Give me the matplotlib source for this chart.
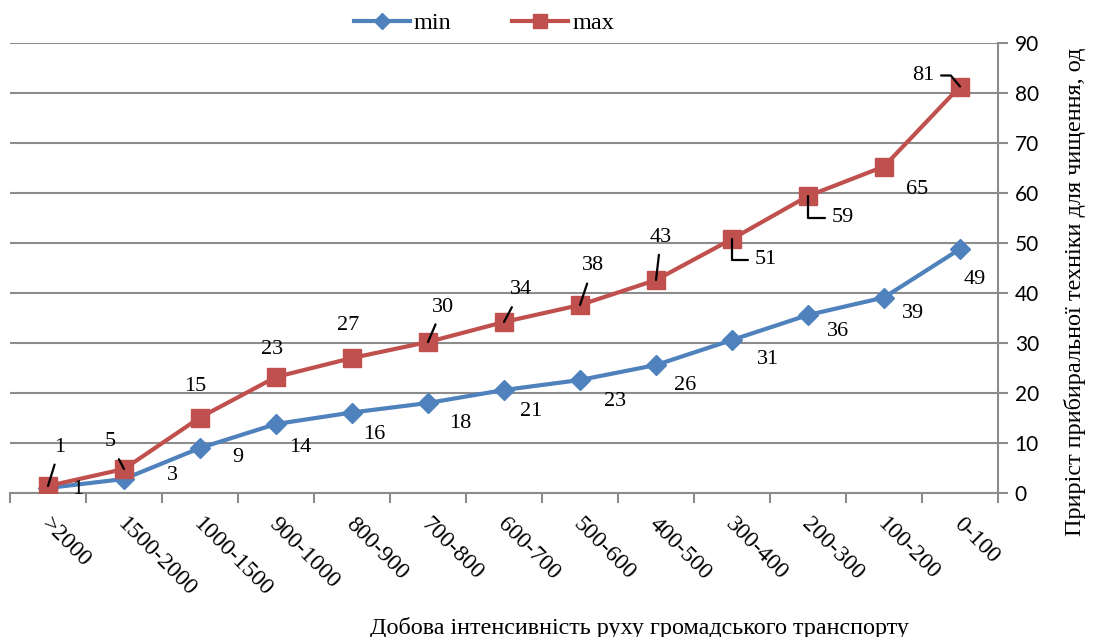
import matplotlib.pyplot as plt
from matplotlib.transforms import ScaledTranslation

categories = ['>2000', '1500-2000', '1000-1500', '900-1000', '800-900', '700-800',
              '600-700', '500-600', '400-500', '300-400', '200-300', '100-200', '0-100']
min_vals = [1.0, 2.8, 9.0, 13.8, 16.1, 18.0, 20.6, 22.6, 25.6, 30.6, 35.6, 39.1, 48.8]
max_vals = [1.4, 4.8, 15.1, 23.2, 27.0, 30.2, 34.2, 37.6, 42.6, 50.8, 59.4, 65.3, 81.3]

# зсуви підписів (у пікселях) відносно точок
min_offsets = [(30, -2), (48, 4), (38, -9), (24, -23), (22, -22), (32, -20), (27, -21),
               (35, -22), (29, -21), (36, -19), (30, -17), (29, -16), (15, -30)]
max_offsets = [(12, 39), (-14, 27), (-5, 31), (-4, 28), (-4, 32), (15, 35), (17, 32),
               (13, 39), (5, 43), (34, -21), (35, -22), (33, -23), (-37, 11)]
# тип виносної лінії: None - без лінії, 'line' - пряма, інакше connectionstyle
max_leader = ['line', 'line', None, None, None, 'line', 'line', 'line', 'line',
              'angle,angleA=0,angleB=90,rad=0', 'angle,angleA=0,angleB=90,rad=0', None,
              'angle,angleA=0,angleB=-50,rad=0']

serif = ['Liberation Serif', 'DejaVu Serif']
blue = '#4F81BD'
red = '#C0504D'
grid_c = '#8C8C8C'
px = 0.72  # пікселі -> пункти при dpi=100

fig = plt.figure(figsize=(10.93, 6.37), dpi=100)
ax = fig.add_axes([10 / 1093, 1 - 493 / 637, 988 / 1093, 450 / 637])

x = list(range(len(categories)))
ax.plot(x, min_vals, color=blue, lw=3.0, marker='D', ms=10.5, label='min', zorder=3)
ax.plot(x, max_vals, color=red, lw=3.0, marker='s', ms=12.5, label='max', zorder=3)

for i, v in enumerate(min_vals):
    dx, dy = min_offsets[i]
    ax.annotate(f'{v:.0f}', (i, v), xytext=(dx * px, dy * px), textcoords='offset points',
                ha='center', va='center', fontsize=16, family=serif, zorder=4)

for i, v in enumerate(max_vals):
    dx, dy = max_offsets[i]
    props = None
    style = max_leader[i]
    if style == 'line':
        props = dict(arrowstyle='-', color='black', lw=1.6, shrinkA=4, shrinkB=0)
    elif style:
        props = dict(arrowstyle='-', color='black', lw=1.6, shrinkA=3, shrinkB=0,
                     connectionstyle=style)
    ax.annotate(f'{v:.0f}', (i, v), xytext=(dx * px, dy * px), textcoords='offset points',
                ha='center', va='center', fontsize=16, family=serif, arrowprops=props,
                zorder=4)

ax.set_xlim(-0.5, len(categories) - 0.5)
ax.set_ylim(0, 90)
ax.set_yticks(range(0, 91, 10))
ax.yaxis.tick_right()
ax.grid(axis='y', color=grid_c, lw=1.5)
ax.set_axisbelow(True)
for s in ['top', 'left']:
    ax.spines[s].set_visible(False)
for s in ['right', 'bottom']:
    ax.spines[s].set_color(grid_c)
    ax.spines[s].set_linewidth(1.5)

ax.set_xticks([i - 0.5 for i in range(len(categories) + 1)])
ax.set_xticklabels([])
ax.set_xticks(x, minor=True)
ax.set_xticklabels(categories, minor=True, rotation=-45, ha='left', va='top',
                   rotation_mode='anchor', fontsize=17, family=serif)
ax.tick_params(axis='x', which='major', length=7, width=1.5, color=grid_c)
ax.tick_params(axis='x', which='minor', length=0, pad=15)
ax.tick_params(axis='y', length=7, width=1.5, color=grid_c, labelsize=15, pad=5)
for lbl in ax.get_yticklabels():
    lbl.set_family('Lato')
shift = ScaledTranslation(4 / 100, 0, fig.dpi_scale_trans)
for t in ax.xaxis.get_minor_ticks():
    t.label1.set_transform(t.label1.get_transform() + shift)

fig.text(640 / 1093, 1 - 628 / 637, 'Добова інтенсивність руху громадського транспорту',
         ha='center', va='center', fontsize=17.4, family=serif)
fig.text(1075 / 1093, 1 - 292 / 637, 'Приріст прибиральної техніки для чищення, од',
         ha='center', va='center', rotation=90, fontsize=17.5, family=serif)

fig.legend(loc='center', bbox_to_anchor=(484 / 1093, 1 - 23 / 637), ncol=2, frameon=False,
           prop={'family': serif, 'size': 17.5}, handlelength=2.3, columnspacing=2.5,
           handletextpad=0.17, markerscale=0.8)

fig.savefig('out.png', dpi=100)
